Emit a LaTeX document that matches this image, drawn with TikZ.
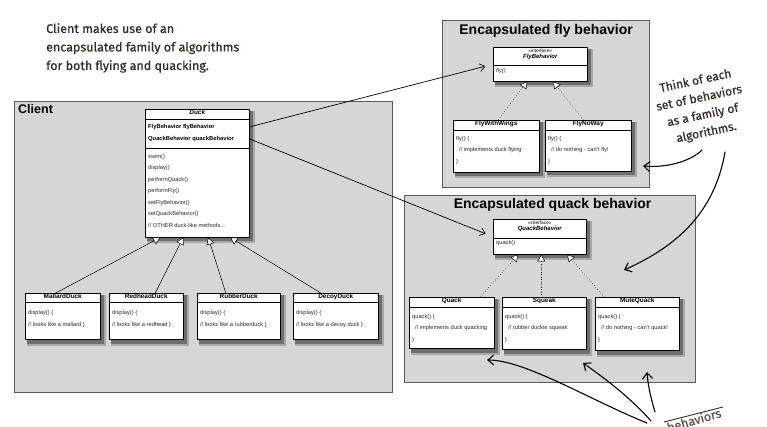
\documentclass[tikz,border=0pt]{standalone}
\usepackage{fontspec}
\setmainfont{Liberation Sans}
\newfontfamily\handfont{Fira Sans}[FakeBold=0.6]
\usetikzlibrary{arrows.meta,positioning}
\pgfdeclarelayer{background}
\pgfdeclarelayer{shade}
\pgfsetlayers{background,shade,main}

\definecolor{regionfill}{HTML}{D6D6D6}
\definecolor{regionline}{HTML}{5A5A5A}
\definecolor{handink}{HTML}{332C28}
\definecolor{bodyink}{HTML}{2A2A2A}
\definecolor{shadowdark}{HTML}{6E6E6E}
\definecolor{shadowsoft}{HTML}{A8A8A8}

\tikzset{
  region/.style={draw=regionline, fill=regionfill, line width=1.2pt, anchor=north west, inner sep=0pt},
  regiontitle/.style={font=\bfseries\fontsize{14}{16}\selectfont, inner sep=1pt},
  cls/.style={draw, fill=white, line width=0.5pt, anchor=north west, inner sep=0pt},
  clstitle/.style={font=\bfseries\fontsize{6.4}{7}\selectfont, inner sep=1pt, anchor=north},
  clsbody/.style={font=\fontsize{5.7}{11.8}\selectfont, text=bodyink, align=left, inner sep=0pt, anchor=north west},
  sep/.style={line width=0.4pt},
  gen/.style={-{Triangle[fill=white,length=7pt,width=8pt]}, line width=0.5pt},
  real/.style={gen, dotted},
  assoc/.style={-{Straight Barb[length=5pt,width=8pt]}, line width=0.7pt, shorten >=8pt},
  hand/.style={-{Straight Barb[length=6pt,width=10pt]}, line width=1.1pt, line cap=round},
  note/.style={font=\handfont\fontsize{12.5}{18.5}\selectfont, text=handink, inner sep=0pt}
}

\begin{document}
\begin{tikzpicture}[x=1pt,y=-1pt]
\begin{pgfonlayer}{background}
\fill[white] (0,0) rectangle (767,427);
% regions
\node[region, minimum width=378pt, minimum height=291pt] (client) at (14,101) {};
\node[region, minimum width=207pt, minimum height=167pt] (fly) at (442,20) {};
\node[region, minimum width=291pt, minimum height=187pt] (quack) at (404,195) {};
\end{pgfonlayer}
\useasboundingbox (0,0) rectangle (767,427);

\node[regiontitle, anchor=north west, font=\bfseries\fontsize{12.5}{14}\selectfont] (clienttitle)
  at ([xshift=3pt,yshift=-2pt]client.north west) {Client};
\node[regiontitle] (flytitle) at ([yshift=-11pt]fly.north) {Encapsulated fly behavior};
\node[regiontitle] (quacktitle) at ([xshift=2.5pt,yshift=-10pt]quack.north) {Encapsulated quack behavior};

% Duck and its subclasses
\node[cls, minimum width=104pt, minimum height=128pt] (duck) at (145,109) {};
\node[clstitle, font=\bfseries\itshape\fontsize{6.4}{7}\selectfont] (ducktitle) at (duck.north) {Duck};
\draw[sep] ([yshift=-10pt]duck.north west) -- ([yshift=-10pt]duck.north east);
\draw[sep] ([yshift=-39pt]duck.north west) -- ([yshift=-39pt]duck.north east);
\node[clsbody, font=\bfseries\fontsize{5.8}{12}\selectfont, text=black] (flyattr) at (148,124) {FlyBehavior flyBehavior};
\node[clsbody, font=\bfseries\fontsize{5.8}{12}\selectfont, text=black] (quackattr) at (148,136) {QuackBehavior quackBehavior};
\node[clsbody, font=\fontsize{5.7}{11.5}\selectfont] (duckops) at (148,154)
  {swim()\\display()\\performQuack()\\performFly()\\setFlyBehavior()\\setQuackBehavior()\\// OTHER duck-like methods...};

\node[cls, minimum width=75pt, minimum height=46pt] (mallard) at (25,293) {};
\node[cls, minimum width=74pt, minimum height=46pt] (redhead) at (109,293) {};
\node[cls, minimum width=83pt, minimum height=46pt] (rubber) at (197,293) {};
\node[cls, minimum width=85pt, minimum height=46pt] (decoy) at (293,293) {};
\foreach \d/\t/\b in {mallard/MallardDuck/a mallard, redhead/RedheadDuck/a redhead,
                      rubber/RubberDuck/a rubberduck, decoy/DecoyDuck/a decoy duck}{
  \node[clstitle] (\d title) at (\d.north) {\t};
  \draw[sep] ([yshift=-9pt]\d.north west) -- ([yshift=-9pt]\d.north east);
  \node[clsbody] (\d body) at ([xshift=3pt,yshift=-17pt]\d.north west) {display() \{\\// looks like \b\ \}};
}

\draw[gen] ([xshift=-7pt]mallard.north) -- ([xshift=-37pt]duck.south);
\draw[gen] ([xshift=9pt]redhead.north) -- ([xshift=-14pt]duck.south);
\draw[gen] ([xshift=-13pt]rubber.north) -- ([xshift=11pt]duck.south);
\draw[gen] ([xshift=-15pt]decoy.north) -- ([xshift=33pt]duck.south);

% fly behavior
\node[cls, minimum width=94pt, minimum height=34pt] (flybeh) at (493,47) {};
\draw[sep] ([yshift=-18pt]flybeh.north west) -- ([yshift=-18pt]flybeh.north east);
\node[clstitle, font=\fontsize{4.8}{5}\selectfont, inner sep=2pt] (flyiface) at (flybeh.north) {\textless\textless interface\textgreater\textgreater};
\node[clstitle, font=\bfseries\itshape\fontsize{6}{7}\selectfont, below=-1.5pt of flyiface] (flyname) {FlyBehavior};
\node[clsbody, font=\itshape\fontsize{5.7}{7}\selectfont] (flyop) at ([xshift=3pt,yshift=-21pt]flybeh.north west) {fly()};

\node[cls, minimum width=86pt, minimum height=52pt] (flywings) at (453,120) {};
\node[cls, minimum width=86pt, minimum height=51pt] (flynoway) at (545,120) {};
\foreach \d/\t/\b in {flywings/FlyWithWings/implements duck flying, flynoway/FlyNoWay/do nothing - can't fly!}{
  \node[clstitle] (\d title) at (\d.north) {\t};
  \draw[sep] ([yshift=-10pt]\d.north west) -- ([yshift=-10pt]\d.north east);
  \node[clsbody, font=\fontsize{5.7}{11.5}\selectfont] (\d body) at ([xshift=3pt,yshift=-16pt]\d.north west)
    {fly() \{\\\hspace*{3pt}// \b\\\}};
}
\draw[real] ([xshift=2pt]flywings.north) -- ([xshift=-13pt]flybeh.south);
\draw[real] ([xshift=-5pt]flynoway.north) -- ([xshift=13pt]flybeh.south);

% quack behavior
\node[cls, minimum width=93pt, minimum height=35pt] (quackbeh) at (493,219) {};
\draw[sep] ([yshift=-19pt]quackbeh.north west) -- ([yshift=-19pt]quackbeh.north east);
\node[clstitle, font=\fontsize{4.8}{5}\selectfont, inner sep=2pt] (quackiface) at (quackbeh.north) {\textless\textless interface\textgreater\textgreater};
\node[clstitle, font=\bfseries\itshape\fontsize{6}{7}\selectfont, below=-1.5pt of quackiface] (quackname) {QuackBehavior};
\node[clsbody, font=\fontsize{5.7}{7}\selectfont] (quackop) at ([xshift=3pt,yshift=-21pt]quackbeh.north west) {quack()};

\node[cls, minimum width=85pt, minimum height=51pt] (quackcls) at (409,297) {};
\node[cls, minimum width=84pt, minimum height=52pt] (squeak) at (502,297) {};
\node[cls, minimum width=84pt, minimum height=53pt] (mute) at (595,297) {};
\foreach \d/\t/\b in {quackcls/Quack/implements duck quacking, squeak/Squeak/rubber duckie squeak,
                      mute/MuteQuack/do nothing - can't quack!}{
  \node[clstitle] (\d title) at (\d.north) {\t};
  \draw[sep] ([yshift=-10pt]\d.north west) -- ([yshift=-10pt]\d.north east);
  \node[clsbody, font=\fontsize{5.7}{11.5}\selectfont] (\d body) at ([xshift=3pt,yshift=-17pt]\d.north west)
    {quack() \{\\\hspace*{3pt}// \b\\\}};
}
\draw[real] ([xshift=28.5pt]quackcls.north) -- ([xshift=-21.5pt]quackbeh.south);
\draw[real] ([xshift=-3pt]squeak.north) -- ([xshift=1.5pt]quackbeh.south);
\draw[real] ([xshift=-33pt]mute.north) -- ([xshift=27.5pt]quackbeh.south);

% shadows behind the class boxes
\begin{pgfonlayer}{shade}
\foreach \c in {duck,mallard,redhead,rubber,decoy,flybeh,flywings,flynoway,quackbeh,quackcls,squeak,mute}{
  \fill[shadowsoft] ([xshift=2pt,yshift=-2pt]\c.north west) rectangle ([xshift=5pt,yshift=-6pt]\c.south east);
  \fill[shadowdark] ([xshift=2pt,yshift=-2pt]\c.north west) rectangle ([xshift=3.5pt,yshift=-4pt]\c.south east);
}
\end{pgfonlayer}

% duck uses the behaviors
\draw[assoc] (duck.east |- flyattr) -- (flybeh.west);
\draw[assoc] (duck.east |- quackattr) -- (quackbeh.west);

% notes
\node[note, anchor=north west, align=left] (clientnote) at (46,23)
  {Client makes use of an\\encapsulated family of algorithms\\for both flying and quacking.};
\node[note, align=center, rotate=12, font=\handfont\fontsize{12}{17.5}\selectfont] (familynote) at (701,107)
  {Think of each\\set of behaviors\\as a family of\\algorithms.};
\node[note, rotate=16, text=handink!80] (cutnote) at (694,420) {behaviors};
\draw[line width=0.9pt, handink] ([xshift=-30pt,yshift=-2pt]cutnote.center) -- ([xshift=29pt,yshift=13pt]cutnote.center);

\coordinate (famA) at (702,150);
\coordinate (famB) at (725,152);
\coordinate (tipfly) at (643,166);
\coordinate (tipquack) at (624,270);
\coordinate (botA) at (647,423);
\coordinate (botB) at (651,421);
\coordinate (botC) at (655,412);
\coordinate (tipQ) at (487,360);
\coordinate (tipS) at (583,363);
\coordinate (tipM) at (647,372);
\draw[hand] (famA) .. controls (690,162) and (665,168) .. (tipfly);
\draw[hand] (famB) .. controls (715,210) and (680,245) .. (tipquack);
\draw[hand] (botA) .. controls (590,400) and (525,360) .. (tipQ);
\draw[hand] (botB) .. controls (628,395) and (600,375) .. (tipS);
\draw[hand] (botC) .. controls (650,395) and (648,385) .. (tipM);
\end{tikzpicture}
\end{document}
